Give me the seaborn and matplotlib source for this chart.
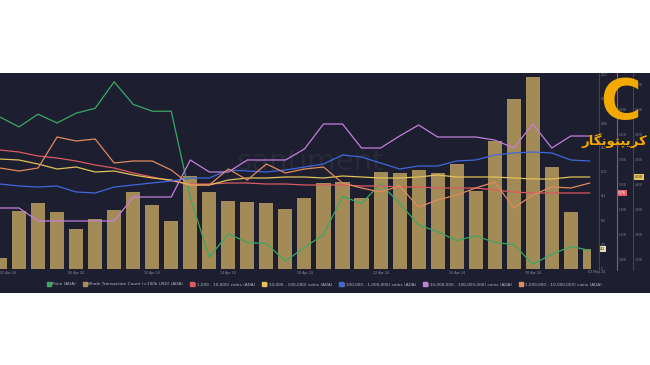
import numpy as np
import pandas as pd
import matplotlib
matplotlib.use("Agg")
import matplotlib.pyplot as plt
import matplotlib.transforms as mtransforms
from matplotlib.lines import Line2D
from matplotlib.patches import Rectangle
import seaborn as sns

# daily data, 02 Apr 2024 -> 03 May 2024
dates = pd.date_range("2024-04-02", periods=32, freq="D")
whale_tx = [128, 673, 766, 661, 464, 580, 684, 893, 742, 557, 1079, 893, 789, 777, 766, 696,
            824, 998, 1009, 824, 1125, 1114, 1148, 1114, 1218, 905, 1485, 1972, 2227, 1183, 661, 232]
price = [0.575, 0.565, 0.578, 0.569, 0.579, 0.584, 0.611, 0.588, 0.581, 0.581, 0.493, 0.432,
         0.456, 0.447, 0.446, 0.428, 0.442, 0.455, 0.494, 0.487, 0.507, 0.487, 0.465, 0.458,
         0.449, 0.454, 0.447, 0.445, 0.425, 0.435, 0.443, 0.439]
# holder supply, billions of ADA
coins_1k_10k = [6.00, 5.98, 5.94, 5.92, 5.89, 5.85, 5.82, 5.77, 5.73, 5.69, 5.66, 5.66, 5.67, 5.67,
                5.66, 5.66, 5.65, 5.65, 5.65, 5.64, 5.64, 5.63, 5.63, 5.62, 5.62, 5.62, 5.60, 5.58,
                5.57, 5.57, 5.57, 5.57]
coins_10k_100k = [4.71, 4.70, 4.66, 4.61, 4.63, 4.58, 4.59, 4.55, 4.52, 4.50, 4.45, 4.45, 4.50, 4.52,
                  4.52, 4.53, 4.53, 4.52, 4.54, 4.53, 4.52, 4.52, 4.53, 4.55, 4.53, 4.53, 4.53, 4.52,
                  4.51, 4.51, 4.53, 4.53]
coins_100k_1m = [10.56, 10.54, 10.53, 10.54, 10.48, 10.47, 10.53, 10.55, 10.57, 10.59, 10.62, 10.62,
                 10.70, 10.69, 10.68, 10.70, 10.73, 10.76, 10.85, 10.83, 10.77, 10.71, 10.74, 10.74,
                 10.79, 10.80, 10.85, 10.87, 10.88, 10.87, 10.80, 10.79]
coins_10m_100m = [13.02, 13.02, 12.89, 12.89, 12.89, 12.89, 12.89, 13.13, 13.13, 13.13, 13.50, 13.38,
                  13.38, 13.50, 13.50, 13.50, 13.61, 13.86, 13.86, 13.62, 13.62, 13.74, 13.85, 13.73,
                  13.73, 13.73, 13.70, 13.62, 13.86, 13.62, 13.74, 13.74]
coins_1m_10m = [8.02, 7.99, 8.02, 8.33, 8.29, 8.31, 8.07, 8.09, 8.09, 8.00, 7.85, 7.85, 8.01, 7.90,
                8.06, 7.97, 8.01, 8.03, 7.87, 7.82, 7.78, 7.84, 7.63, 7.70, 7.75, 7.82, 7.88, 7.62,
                7.75, 7.83, 7.82, 7.87]

tick_days = [0, 4, 8, 12, 16, 20, 24, 28]
tick_labels = [dates[i].strftime("%d %b %y") for i in tick_days]
end_label = "02 May 24"
whale_axis_ticks = [0, 281, 562, 844, 1125, 1407, 1688, 1969, 2251]

BG = "#1d1e2f"
BAR = "#a38b58"
GREEN = "#3aa862"
RED = "#dc5a62"
YELLOW = "#e2c25a"
BLUE = "#3f68dc"
VIOLET = "#c47fdc"
ORANGE = "#e08a5e"

sns.set_theme(style="dark")
plt.rcParams["font.family"] = ["DejaVu Sans"]

W, H = 650, 365
fig = plt.figure(figsize=(W / 100, H / 100), dpi=100, facecolor="white")
fig.patches.append(Rectangle((0, 1 - 293 / H), 1, 220 / H, transform=fig.transFigure,
                             facecolor=BG, edgecolor="none", zorder=-5))

ax = fig.add_axes([0, 1 - 269 / H, 591 / W, 196 / H])
ax.set_facecolor("none")
x = np.arange(len(dates))

ax.text(310 / W, 1 - 162 / H, "santiment", transform=fig.transFigure, fontsize=21,
        color="#282a3c", ha="center", va="center", zorder=0)

sns.barplot(x=x, y=whale_tx, ax=ax, color=BAR, saturation=1, width=0.74, zorder=2,
            edgecolor="none", linewidth=0)
ax.set_ylim(0, 2274)

series = [
    (price, GREEN, (0.42, 0.62)),
    (coins_1k_10k, RED, (4.81, 6.77)),
    (coins_10k_100k, YELLOW, (3.61, 5.57)),
    (coins_100k_1m, BLUE, (9.71, 11.67)),
    (coins_10m_100m, VIOLET, (12.41, 14.37)),
    (coins_1m_10m, ORANGE, (7.01, 8.97)),
]
twins = []
for vals, col, lim in series:
    tw = ax.twinx()
    sns.lineplot(x=x, y=vals, ax=tw, color=col, linewidth=0.9)
    tw.set_ylim(*lim)
    tw.axis("off")
    twins.append(tw)

ax.set_xlim(0, 31.06)
ax.set_xticks(tick_days)
ax.set_xticklabels(tick_labels)
ax.tick_params(axis="x", length=0, pad=1.2, labelsize=2.3, labelcolor="#8c8e9c")
ax.get_xticklabels()[0].set_ha("left")
ax.set_yticks([])
ax.set_xlabel("")
ax.set_ylabel("")
ax.grid(False)
for s in ax.spines.values():
    s.set_visible(False)
fig.text(605 / W, 1 - 272 / H, end_label, fontsize=2.3, color="#8c8e9c", ha="right", va="center")

# right-hand axes
for xp, c in [(599, "#4a453c"), (617, "#b0505a"), (633, "#4a453c")]:
    fig.add_artist(Line2D([xp / W] * 2, [1 - 73 / H, 1 - 270 / H], color=c, lw=0.8,
                          transform=fig.transFigure))
tr = mtransforms.blended_transform_factory(fig.transFigure, ax.transData)
for v in whale_axis_ticks:
    ax.text(601 / W, v, str(v), transform=tr, fontsize=2.0, color="#7c7e8c", va="center",
            clip_on=False)
ax.text(600 / W, whale_tx[-1], str(whale_tx[-1]), transform=tr, fontsize=2.0, color="#222",
        va="center", clip_on=False, bbox=dict(facecolor="#e6dbb2", edgecolor="none", pad=0.6))

red_tw, yel_tw = twins[1], twins[2]
tr_r = mtransforms.blended_transform_factory(fig.transFigure, red_tw.transData)
for v in np.arange(4.9, 6.8, 0.25):
    red_tw.text(619 / W, v, f"{v:.2f}B", transform=tr_r, fontsize=2.0, color="#7c7e8c",
                va="center", clip_on=False)
red_tw.text(618 / W, coins_1k_10k[-1], f"{coins_1k_10k[-1]:.2f}B", transform=tr_r, fontsize=2.0,
            color="white", va="center", clip_on=False,
            bbox=dict(facecolor="#e0606c", edgecolor="none", pad=0.6))
tr_y = mtransforms.blended_transform_factory(fig.transFigure, yel_tw.transData)
for v in np.arange(3.7, 5.6, 0.25):
    yel_tw.text(635 / W, v, f"{v:.2f}B", transform=tr_y, fontsize=2.0, color="#7c7e8c",
                va="center", clip_on=False)
yel_tw.text(635 / W, coins_10k_100k[-1], f"{coins_10k_100k[-1]:.2f}B", transform=tr_y,
            fontsize=2.0, color="#222", va="center", clip_on=False,
            bbox=dict(facecolor="#e8c860", edgecolor="none", pad=0.6))

# legend
labels = ["Price (ADA)", "Whale Transaction Count (>100k USD) (ADA)",
          "[1,000 - 10,000) coins (ADA)", "[10,000 - 100,000) coins (ADA)",
          "[100,000 - 1,000,000) coins (ADA)", "[10,000,000 - 100,000,000) coins (ADA)",
          "[1,000,000 - 10,000,000) coins (ADA)"]
colors = [GREEN, BAR, RED, YELLOW, BLUE, VIOLET, ORANGE]
handles = [Line2D([], [], marker="s", linestyle="none", markersize=2.2, color=c) for c in colors]
fig.legend(handles, labels, loc="center", bbox_to_anchor=(0.5, 1 - 284 / H), ncol=7,
           frameon=False, fontsize=3.1, handlelength=0.6, handletextpad=0.3,
           columnspacing=1.8, labelcolor="#b8bac6")

# watermark logo
fig.text(621 / W, 1 - 103 / H, "C", fontsize=40, color="#f2a900", fontweight="bold",
         ha="center", va="center")
persian = "\uFEAD\uFE8E\uFB95\uFEE7\uFEEE\uFE98\uFB59\uFBFE\uFEAE\uFB90"
fig.text(614 / W, 1 - 141 / H, persian, fontsize=9.5, color="#f2a900", fontweight="bold",
         ha="center", va="center")

fig.savefig("out.png", dpi=100, facecolor="white")
